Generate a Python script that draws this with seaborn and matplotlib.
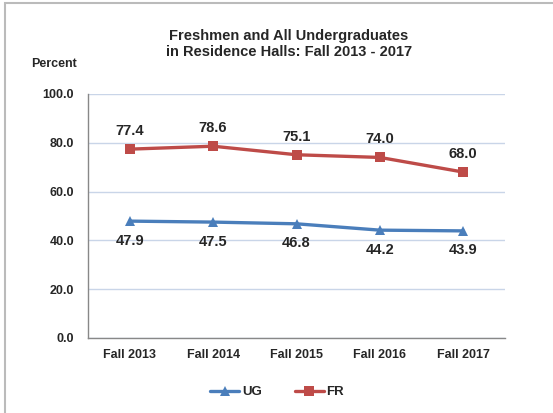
import pandas as pd
import numpy as np
import matplotlib
matplotlib.use('Agg')
import matplotlib.pyplot as plt
import seaborn as sns
from matplotlib.patches import Rectangle

# Chart data
years = ['Fall 2013', 'Fall 2014', 'Fall 2015', 'Fall 2016', 'Fall 2017']
ug_values = [47.9, 47.5, 46.8, 44.2, 43.9]
fr_values = [77.4, 78.6, 75.1, 74.0, 68.0]
y_ticks = [0, 20, 40, 60, 80, 100]

df = pd.DataFrame({
    'Year': years * 2,
    'Percent': ug_values + fr_values,
    'Group': ['UG'] * len(years) + ['FR'] * len(years),
})

sns.set_style('white')
plt.rcParams['font.family'] = ['Liberation Sans', 'DejaVu Sans']

blue = '#4A7EBB'
red = '#BE4B48'

fig = plt.figure(figsize=(5.53, 4.13), dpi=100)
ax = fig.add_axes([88 / 553, 1 - 338 / 413, 417 / 553, 244 / 413])

sns.lineplot(data=df, x='Year', y='Percent', hue='Group', style='Group',
             palette={'UG': blue, 'FR': red}, markers={'UG': '^', 'FR': 's'},
             dashes=False, linewidth=2.4, markersize=7.5, markeredgewidth=0,
             ax=ax, legend=False)

# data labels
for i, v in enumerate(fr_values):
    ax.annotate(f'{v:.1f}', (i, v), xytext=(0, 8), textcoords='offset points',
                ha='center', va='bottom', fontsize=10.5, fontweight='bold')
for i, v in enumerate(ug_values):
    ax.annotate(f'{v:.1f}', (i, v), xytext=(0, -9), textcoords='offset points',
                ha='center', va='top', fontsize=10.5, fontweight='bold')

ax.set_xlim(-0.5, len(years) - 0.5)
ax.set_ylim(0, 100)
ax.set_yticks(y_ticks)
ax.set_yticklabels([f'{t:.1f}' for t in y_ticks], fontsize=9, fontweight='bold')
ax.set_xticks(range(len(years)))
ax.set_xticklabels(years, fontsize=9, fontweight='bold')
ax.set_xticks(np.arange(-0.5, len(years)), minor=True)
ax.tick_params(axis='x', which='major', length=0, pad=8)
ax.tick_params(axis='x', which='minor', length=4, color='#888888', width=1)
ax.tick_params(axis='y', length=4, color='#888888', width=1, pad=6)
ax.set_xlabel('')
ax.set_ylabel('')

ax.grid(axis='y', color='#C9D5E8', linewidth=1)
ax.set_axisbelow(True)
for s in ['top', 'right']:
    ax.spines[s].set_visible(False)
for s in ['left', 'bottom']:
    ax.spines[s].set_color('#888888')
    ax.spines[s].set_linewidth(1)

fig.text(289 / 553, 1 - 44 / 413, 'Freshmen and All Undergraduates\nin Residence Halls: Fall 2013 - 2017',
         ha='center', va='center', fontsize=10.5, fontweight='bold', linespacing=1.2)
fig.text(54 / 553, 1 - 64 / 413, 'Percent', ha='center', va='center',
         fontsize=9, fontweight='bold')

# legend
handles = [plt.Line2D([], [], color=blue, marker='^', linewidth=2.4, markersize=7.5, markeredgewidth=0),
           plt.Line2D([], [], color=red, marker='s', linewidth=2.4, markersize=7.5, markeredgewidth=0)]
fig.legend(handles, ['UG', 'FR'], loc='center', bbox_to_anchor=(277 / 553, 1 - 392 / 413),
           ncol=2, frameon=False, handlelength=2.2, columnspacing=2.5, handletextpad=0.2,
           prop={'weight': 'bold', 'size': 9.5})

# outer frame
fig.patches.append(Rectangle((5 / 553, -0.05), 1.1, 1 - 3 / 413 + 0.05, transform=fig.transFigure,
                             fill=False, edgecolor='#BBBBBB', linewidth=1.5))

fig.savefig('out.png', dpi=100)
